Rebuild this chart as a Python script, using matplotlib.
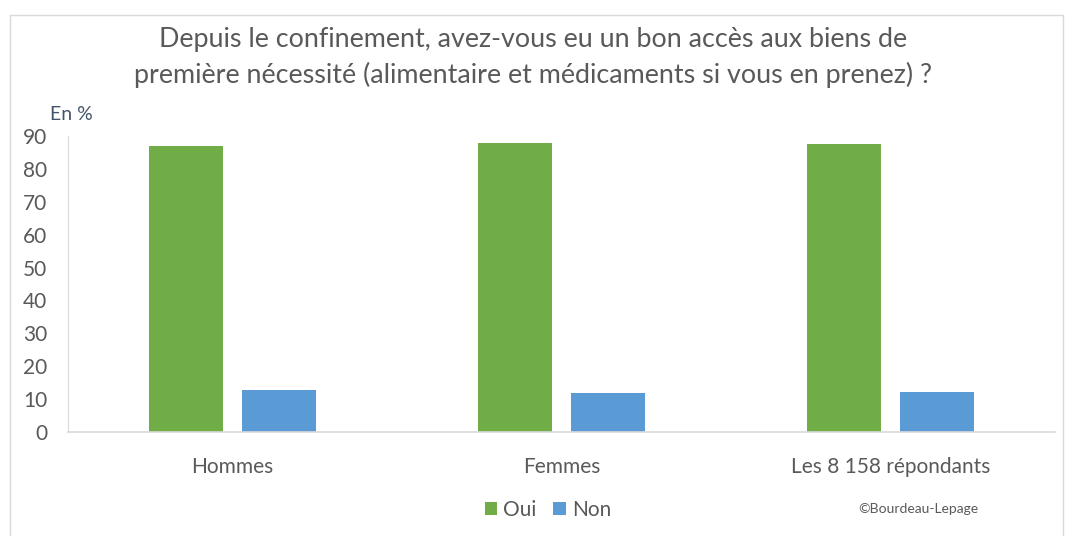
import numpy as np
import matplotlib.pyplot as plt
from matplotlib.patches import Rectangle

plt.rcParams['font.family'] = ['Lato', 'DejaVu Sans']

categories = ['Hommes', 'Femmes', 'Les 8 158 répondants']
oui = [87, 88, 87.5]
non = [12.8, 11.8, 12.1]
yticks = [0, 10, 20, 30, 40, 50, 60, 70, 80, 90]

green = '#70AD47'
blue = '#5B9BD5'
grey = '#595959'

fig = plt.figure(figsize=(10.67, 5.36), dpi=100)
ax = fig.add_axes([68/1067, 1 - 432/536, 987/1067, (432 - 136)/536])

x = np.arange(len(categories))
w = 0.225
off = 0.1425
ax.bar(x - off, oui, w, color=green, label='Oui')
ax.bar(x + off, non, w, color=blue, label='Non')

ax.set_xlim(-0.5, 2.5)
ax.set_ylim(0, 90)
ax.set_yticks(yticks)
ax.set_xticks(x)
ax.set_xticklabels(categories)
ax.tick_params(axis='y', length=0, labelsize=15, colors=grey, pad=15)
ax.tick_params(axis='x', length=0, labelsize=15, colors=grey, pad=18)
for s in ['top', 'right']:
    ax.spines[s].set_visible(False)
ax.spines['left'].set_color('#D9D9D9')
ax.spines['bottom'].set_color('#D9D9D9')
ax.spines['bottom'].set_linewidth(1.2)

fig.text(0.5, 1 - 40/536, 'Depuis le confinement, avez-vous eu un bon accès aux biens de',
         ha='center', va='center', fontsize=19.4, color=grey)
fig.text(0.5, 1 - 75/536, 'première nécessité (alimentaire et médicaments si vous en prenez) ?',
         ha='center', va='center', fontsize=19.4, color=grey)
fig.text(50/1067, 1 - 115/536, 'En %', ha='left', va='center', fontsize=14, color='#44546A')

leg = fig.legend(loc='center', bbox_to_anchor=(548/1067, 1 - 510/536), ncol=2, frameon=False,
                 fontsize=15, handlelength=0.6, handleheight=0.6, handletextpad=0.3,
                 columnspacing=0.8, labelcolor=grey)
fig.text(858/1067, 1 - 509/536, '©Bourdeau-Lepage', ha='left', va='center', fontsize=10, color=grey)

fig.patches.append(Rectangle((10/1067, -0.01), 1053/1067, 1 - 15/536 + 0.01,
                             transform=fig.transFigure, fill=False, edgecolor='#D9D9D9', lw=1))

fig.savefig('out.png', dpi=100)
